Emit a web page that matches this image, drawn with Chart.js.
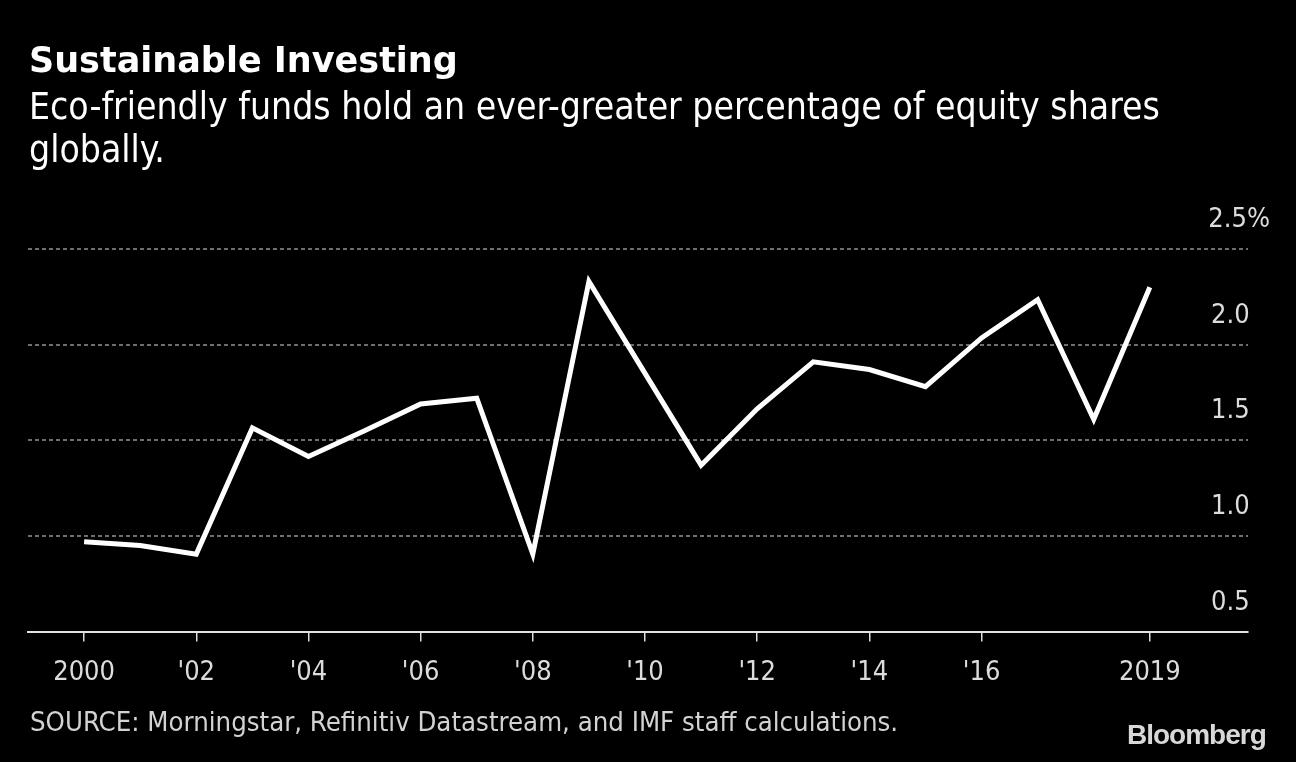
<!DOCTYPE html>
<html>
<head>
<meta charset="utf-8">
<title>Sustainable Investing</title>
<script src="https://cdn.jsdelivr.net/npm/chart.js@4.4.1/dist/chart.umd.min.js"></script>
<style>
  html, body { margin: 0; padding: 0; background: #000; }
  body {
    width: 1296px; height: 762px; position: relative; overflow: hidden;
    font-family: "DejaVu Sans Condensed", "DejaVu Sans", sans-serif;
    font-stretch: condensed;
    color: #fff;
  }
  #chartBox { position: absolute; left: 0; top: 0; width: 1296px; height: 762px; }
  .txt { position: absolute; white-space: nowrap; }
  #title { left: 29px; top: 40px; font-family: "DejaVu Sans", sans-serif; font-stretch: normal;
           font-weight: bold; font-size: 35px; }
  #subtitle { left: 29px; top: 85px; font-size: 37px; line-height: 43px; white-space: normal; width: 1180px; }
  #source { left: 30px; top: 706px; font-size: 27.3px; color: #d2d2d2; }
  #logo { left: 1127px; top: 719px; font-family: "Liberation Sans", Arial, sans-serif; font-stretch: normal;
          font-weight: bold; font-size: 28px; letter-spacing: -1px; color: #d8d8d8; }
</style>
</head>
<body>
<div id="chartBox"><canvas id="shareChart"></canvas></div>
<div class="txt" id="title">Sustainable Investing</div>
<div class="txt" id="subtitle">Eco-friendly funds hold an ever-greater percentage of equity shares globally.</div>
<div class="txt" id="source">SOURCE: Morningstar, Refinitiv Datastream, and IMF staff calculations.</div>
<div class="txt" id="logo">Bloomberg</div>

<script>
// share of global equity held by eco-friendly funds, %
const years = [2000, 2001, 2002, 2003, 2004, 2005, 2006, 2007, 2008, 2009,
               2010, 2011, 2012, 2013, 2014, 2015, 2016, 2017, 2018, 2019];
const shares = [0.97, 0.95, 0.905, 1.565, 1.415, 1.55, 1.69, 1.72, 0.905, 2.33,
                1.85, 1.37, 1.665, 1.91, 1.87, 1.78, 2.035, 2.235, 1.61, 2.30];

const xTicks = [2000, 2002, 2004, 2006, 2008, 2010, 2012, 2014, 2016, 2019];
const xTickLabels = ['2000', "'02", "'04", "'06", "'08", "'10", "'12", "'14", "'16", '2019'];
const yTicks = [0.5, 1.0, 1.5, 2.0, 2.5];
const yTickLabels = ['0.5', '1.0', '1.5', '2.0', '2.5%'];

const labelFont = { family: '"DejaVu Sans Condensed", "DejaVu Sans", sans-serif', size: 27 };
const pad = '\u2007\u2009'; // about the width of "%", so the digits line up

const ctx = document.getElementById('shareChart').getContext('2d');

new Chart(ctx, {
  type: 'line',
  data: {
    datasets: [{
      data: years.map((y, i) => ({ x: y, y: shares[i] })),
      borderColor: '#ffffff',
      borderWidth: 5,
      borderJoinStyle: 'miter',
      pointRadius: 0,
      tension: 0,
      fill: false
    }]
  },
  options: {
    responsive: true,
    maintainAspectRatio: false,
    animation: false,
    layout: { padding: { left: 28, right: 4, top: 249, bottom: 58 } },
    plugins: { legend: { display: false }, tooltip: { enabled: false } },
    scales: {
      x: {
        type: 'linear',
        min: 1999,
        max: 2020.75,
        afterBuildTicks: (scale) => { scale.ticks = xTicks.map(v => ({ value: v })); },
        ticks: {
          autoSkip: false,
          maxRotation: 0,
          color: '#dcdcdc',
          font: labelFont,
          padding: 15,
          callback: (v) => xTickLabels[xTicks.indexOf(v)]
        },
        grid: { drawOnChartArea: false, drawTicks: true, tickLength: 10, color: '#dcdcdc', lineWidth: 1.5 },
        border: { display: true, color: '#e2e2e2', width: 2 }
      },
      y: {
        position: 'right',
        min: 0.5,
        max: 2.5,
        afterBuildTicks: (scale) => { scale.ticks = yTicks.map(v => ({ value: v })); },
        ticks: {
          mirror: true,
          padding: 22,
          labelOffset: -29,
          color: '#dcdcdc',
          font: labelFont,
          callback: (v) => {
            const lbl = yTickLabels[yTicks.indexOf(v)];
            return lbl.endsWith('%') ? lbl : lbl + pad;
          }
        },
        grid: {
          drawTicks: false,
          lineWidth: 2,
          color: (c) => c.tick && c.tick.value === 0.5 ? 'rgba(0,0,0,0)' : '#6e6e6e'
        },
        border: { display: false, dash: [4, 3] }
      }
    }
  }
});
</script>
</body>
</html>
